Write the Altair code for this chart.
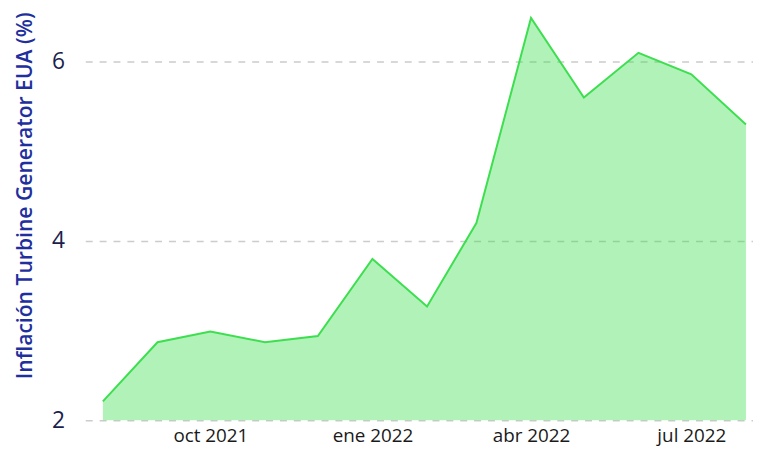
import altair as alt
import pandas as pd

dates = ["2021-08-01", "2021-09-01", "2021-10-01", "2021-11-01", "2021-12-01",
         "2022-01-01", "2022-02-01", "2022-03-01", "2022-04-01", "2022-05-01",
         "2022-06-01", "2022-07-01", "2022-08-01"]
values = [2.21, 2.87, 2.99, 2.87, 2.94, 3.80, 3.27, 4.20, 6.49, 5.60, 6.10, 5.86, 5.30]
y_ticks = [2, 4, 6]

df = pd.DataFrame({"date": dates, "value": values})

months_es = "['ene','feb','mar','abr','may','jun','jul','ago','sep','oct','nov','dic']"

x_enc = alt.X(
    "date:T",
    scale=alt.Scale(type="utc",
                    domain=[alt.DateTime(year=2021, month=7, date=22, utc=True),
                            alt.DateTime(year=2022, month=8, date=5, utc=True)]),
    axis=alt.Axis(
        title=None, grid=False, domain=False, ticks=False,
        values=[alt.DateTime(year=2021, month=10, date=1, utc=True),
                alt.DateTime(year=2022, month=1, date=1, utc=True),
                alt.DateTime(year=2022, month=4, date=1, utc=True),
                alt.DateTime(year=2022, month=7, date=1, utc=True)],
        labelExpr=months_es + "[utcmonth(datum.value)] + ' ' + utcyear(datum.value)",
        labelFont="Open Sans", labelFontSize=19, labelColor="#1a1a1a",
        labelPadding=7,
    ),
)

y_enc = alt.Y(
    "value:Q",
    scale=alt.Scale(domain=[2, 6.5], zero=False, nice=False),
    axis=alt.Axis(
        title="Inflación Turbine Generator EUA (%)",
        titleFont="Open Sans", titleFontSize=21.3, titleColor="#1f2f9e",
        titleFontWeight=600, titlePadding=16, titleY=180,
        values=y_ticks, format="d",
        labelFont="Open Sans", labelFontSize=23, labelColor="#1b1f4d",
        labelPadding=21, ticks=False, domain=False,
        grid=True, gridColor="#cccccc", gridDash=[7, 7], gridWidth=1.5,
    ),
)

area = alt.Chart(df).mark_area(
    color="#3ddf50", opacity=0.4, line=False
).encode(x=x_enc, y=y_enc, y2=alt.datum(2))

line = alt.Chart(df).mark_line(color="#3ddf50", strokeWidth=2).encode(
    x="date:T", y="value:Q"
)

chart = alt.layer(area, line).properties(
    width=674, height=407,
    autosize=alt.AutoSizeParams(type="none"),
    padding={"left": 78, "top": 7, "right": 0, "bottom": 28},
).configure_view(stroke=None)

chart.save("out.html", embed_options={"renderer": "svg", "actions": False})
